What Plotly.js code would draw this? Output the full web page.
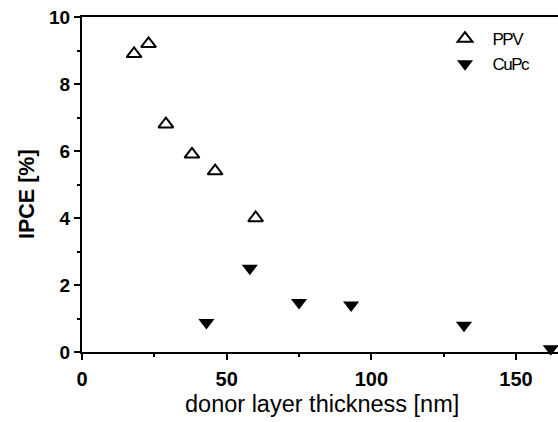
<!DOCTYPE html>
<html>
<head>
<meta charset="utf-8">
<script src="https://cdn.plot.ly/plotly-3.0.1.min.js"></script>
<style>html,body{margin:0;padding:0;background:#fff;}#chart{width:558px;height:422px;}
#chart .legendtext{letter-spacing:-1.5px;}</style>
</head>
<body>
<div id="chart"></div>
<script>
var ppvThickness = [18, 23, 29, 38, 46, 60];
var ppvIPCE = [8.9, 9.2, 6.8, 5.9, 5.4, 4.0];
var cupcThickness = [43, 58, 75, 93, 132, 162];
var cupcIPCE = [0.88, 2.5, 1.48, 1.4, 0.8, 0.1];
var seriesNames = ['PPV', 'CuPc'];
var xTickVals = [0, 50, 100, 150];
var yTickVals = [0, 2, 4, 6, 8, 10];
var xTitle = 'donor layer thickness [nm]';
var yTitle = 'IPCE [%]';

var font = 'Arial, "Liberation Sans", Helvetica, sans-serif';

var traces = [
  {
    x: ppvThickness, y: ppvIPCE, name: seriesNames[0], type: 'scatter', mode: 'markers',
    cliponaxis: false,
    marker: {symbol: 'triangle-up-open', size: 13, color: '#000', line: {width: 2, color: '#000'}}
  },
  {
    x: cupcThickness, y: cupcIPCE, name: seriesNames[1], type: 'scatter', mode: 'markers',
    cliponaxis: false,
    marker: {symbol: 'triangle-down', size: 14, color: '#000', line: {width: 0}}
  }
];

var layout = {
  width: 558, height: 422,
  margin: {l: 82, r: 0, t: 17, b: 70},
  paper_bgcolor: '#fff', plot_bgcolor: '#fff',
  font: {family: font, color: '#000'},
  showlegend: true,
  legend: {
    x: 0.7469, y: 0.988, xanchor: 'left', yanchor: 'top',
    bgcolor: 'rgba(0,0,0,0)', borderwidth: 0,
    font: {family: font, size: 17, color: '#000'},
    itemwidth: 45, tracegroupgap: 0
  },
  annotations: [
    {
      text: xTitle, xref: 'paper', yref: 'paper', x: 0.5, y: 0,
      xanchor: 'center', yanchor: 'middle', xshift: 1.5, yshift: -52, showarrow: false,
      font: {family: font, size: 23.5, color: '#000'}
    },
    {
      text: yTitle, xref: 'paper', yref: 'paper', x: 0, y: 0.5, textangle: -90,
      xanchor: 'center', yanchor: 'middle', xshift: -55.5, yshift: -10, showarrow: false,
      font: {family: font, size: 21.5, color: '#000', weight: 'bold'}
    }
  ],
  xaxis: {
    range: [0, 164.5], showgrid: false, zeroline: false,
    showline: true, linecolor: '#000', linewidth: 2, mirror: true,
    ticks: 'outside', ticklen: 6, tickwidth: 2, tickcolor: '#000',
    tickvals: xTickVals, ticktext: xTickVals.map(String),
    ticklabelstandoff: 2,
    tickfont: {family: font, size: 20, color: '#000', weight: 'bold'},
    minor: {dtick: 25, tick0: 25, ticks: 'outside', ticklen: 3, tickwidth: 2, tickcolor: '#000', showgrid: false}
  },
  yaxis: {
    range: [0, 10], showgrid: false, zeroline: false,
    showline: true, linecolor: '#000', linewidth: 2,
    ticks: 'outside', ticklen: 6, tickwidth: 2, tickcolor: '#000',
    tickvals: yTickVals, ticktext: yTickVals.map(String),
    tickfont: {family: font, size: 19, color: '#000', weight: 'bold'},
    minor: {dtick: 1, tick0: 1, ticks: 'outside', ticklen: 3, tickwidth: 2, tickcolor: '#000', showgrid: false}
  }
};

Plotly.newPlot('chart', traces, layout, {displayModeBar: false, staticPlot: true});
</script>
</body>
</html>
